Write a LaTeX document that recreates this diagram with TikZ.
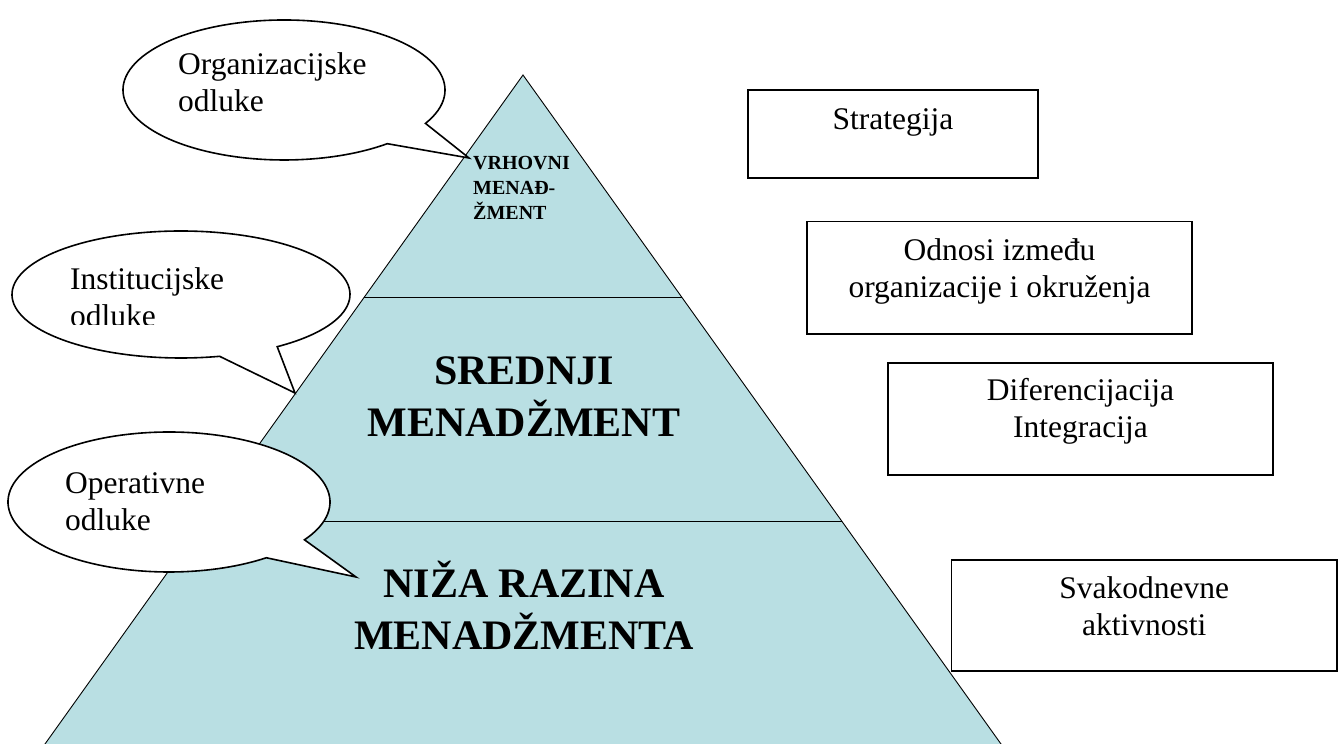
\documentclass[tikz,border=0pt]{standalone}
\usepackage{fontspec}
\setmainfont{Liberation Serif}
\usetikzlibrary{calc}
\definecolor{pyrfill}{RGB}{185,223,227}
\newcommand\mystack[2]{\begin{tabular}[t]{@{}#1@{}}#2\end{tabular}}
\tikzset{
  pyr/.style={fill=pyrfill},
  pyredge/.style={line width=0.9pt},
  callout/.style={draw, fill=white, line width=1.6pt, line join=miter},
  boxshape/.style={draw, line width=1.5pt, inner sep=0pt},
  bodytxt/.style={font=\fontsize{31.5}{37}\selectfont, inner sep=0pt},
  bigtxt/.style={font=\fontsize{42}{49}\selectfont\bfseries, inner sep=0pt, anchor=base},
  smalltxt/.style={font=\fontsize{20}{24.5}\selectfont\bfseries, inner sep=0pt, anchor=base west},
}
\begin{document}
\begin{tikzpicture}[x=1pt,y=1pt]
\useasboundingbox (0,0) rectangle (1341,744);
\clip (0,0) rectangle (1341,744);
% pyramid
\coordinate (apex) at (523,669);
\coordinate (bl) at (45,0);
\coordinate (br) at (1001,0);
\coordinate (blx) at ($(apex)!1.03!(bl)$);
\coordinate (brx) at ($(apex)!1.03!(br)$);
\fill[pyr] (apex) -- (blx) -- (brx) -- cycle;
\draw[pyredge] (blx) -- (apex) -- (brx);
\coordinate (d1l) at ($(apex)!0.3318!(bl)$);
\coordinate (d1r) at ($(apex)!0.3318!(br)$);
\coordinate (d2l) at ($(apex)!0.6667!(bl)$);
\coordinate (d2r) at ($(apex)!0.6667!(br)$);
\draw[pyredge] (d1l) -- (d1r);
\draw[pyredge] (d2l) -- (d2r);
% pyramid labels
\node[smalltxt] (top) at (473,574) {\mystack{l}{VRHOVNI\\MENAĐ-\\ŽMENT}};
\node[bigtxt] (mid) at (524,359) {\mystack{c}{SREDNJI\\MENADŽMENT}};
\node[bigtxt] (low) at (524,146) {\mystack{c}{NIŽA RAZINA\\MENADŽMENTA}};
% callouts
\coordinate (c1) at (284,654);
\coordinate (t1) at (469,586);
\draw[callout] (c1) ++(-28.5:161pt and 70pt) arc[start angle=-28.5, end angle=309.9, x radius=161pt, y radius=70pt] -- (t1) -- cycle;
\node[bodytxt, anchor=base west] (org) at (178,669) {\mystack{l}{Organizacijske\\odluke}};
\coordinate (c2) at (181,449.5);
\coordinate (t2) at (295,351);
\draw[callout] (c2) ++(-55.3:169pt and 63.5pt) arc[start angle=-55.3, end angle=283.2, x radius=169pt, y radius=63.5pt] -- (t2) -- cycle;
\begin{scope}
\clip (0,419.5) rectangle (400,744);
\node[bodytxt, anchor=base west] (inst) at (70,454) {\mystack{l}{Institucijske\\odluke}};
\end{scope}
\coordinate (c3) at (169,242);
\coordinate (t3) at (356,167);
\draw[callout] (c3) ++(-32.7:161pt and 70pt) arc[start angle=-32.7, end angle=307.2, x radius=161pt, y radius=70pt] -- (t3) -- cycle;
\node[bodytxt, anchor=base west] (oper) at (65,250) {\mystack{l}{Operativne\\odluke}};
% boxes
\node[boxshape, minimum width=290pt, minimum height=88pt] (strat) at (893,610) {};
\node[bodytxt, anchor=base] (strat-t) at (893,614) {Strategija};
\node[boxshape, minimum width=385pt, minimum height=112.5pt] (odn) at (999.5,466.25) {};
\node[bodytxt, anchor=base] (odn-t) at (999.5,483) {\mystack{c}{Odnosi između\\organizacije i okruženja}};
\node[boxshape, minimum width=385pt, minimum height=112pt] (dif) at (1080.5,325) {};
\node[bodytxt, anchor=base] (dif-t) at (1080.5,343) {\mystack{c}{Diferencijacija\\Integracija}};
\node[boxshape, minimum width=385.5pt, minimum height=111pt] (svak) at (1144.25,128.5) {};
\node[bodytxt, anchor=base] (svak-t) at (1144.25,145) {\mystack{c}{Svakodnevne\\aktivnosti}};
\end{tikzpicture}
\end{document}
